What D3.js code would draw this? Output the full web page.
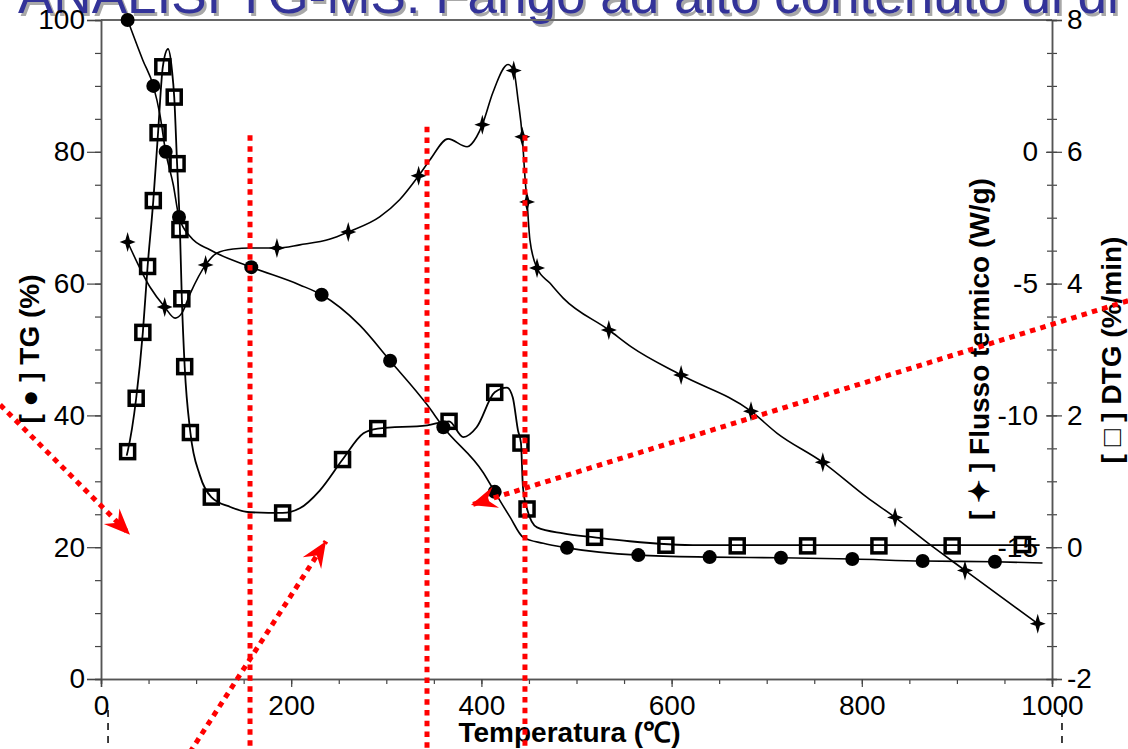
<!DOCTYPE html>
<html lang="it">
<head>
    <meta charset="UTF-8">
    <title>TG-MS</title>
    <style>
        body { margin: 0; background-color: #fff; }
        svg { display: block; }
        text { font-family: "Liberation Sans", Arial, sans-serif; }
    </style>
</head>
<body>
<script src="https://cdnjs.cloudflare.com/ajax/libs/d3/7.8.5/d3.min.js"></script>
<script>

    let width = 1128
    let height = 749
    let plotLeft = 101, plotRight = 1052, plotTop = 20, plotBottom = 679

    // TG (%) - curve and filled circles
    let tgCurve = [[28,100],[44,93.9],[55,90],[62,85.6],[68,80],[76,75],[82,70.1],[94,67.1],[115,65.1],[158,62.5],
        [209,59.8],[232,58.3],[272,53.7],[304,48.3],[343,41.6],[360,38.2],[402,31.3],[414,28.4],[430,24.6],[444,21.5],
        [465,20.6],[490,19.9],[565,18.8],[640,18.5],[715,18.4],[790,18.2],[864,17.9],[940,17.8],[990,17.6]]
    let tgMarkers = [[28,100],[55,90],[68,80],[82,70.1],[158,62.5],[232,58.3],[304,48.3],[360,38.2],[414,28.4],
        [490,19.9],[565,18.8],[640,18.5],[715,18.4],[790,18.2],[864,17.9],[940,17.8]]

    // DTG (%/min) - curve and open squares
    let dtgCurve = [[27,1.39],[28,1.45],[37,2.26],[44,3.26],[49,4.26],[55,5.26],[60,6.29],[65,7.29],[70.5,7.56],[74.7,7.23],
        [77,6.83],[80,5.82],[83,4.82],[85,3.77],[88,2.74],[94,1.74],[104,1.09],[116,0.76],[136,0.61],[157,0.53],
        [191,0.52],[209,0.59],[230,0.86],[254,1.33],[276,1.73],[291,1.80],[343,1.85],[366,1.91],[381,1.67],[395,1.82],
        [414,2.35],[427,2.42],[433,2.27],[438.5,1.77],[441.6,1.58],[443.7,0.91],[448,0.58],[458.5,0.30],[486,0.21],
        [519,0.15],[556,0.09],[630,0.03],[987,0.03]]
    let dtgMarkers = [[28,1.45],[37,2.26],[44,3.26],[49,4.26],[55,5.26],[60,6.29],[65,7.29],[77,6.83],[80,5.82],
        [83,4.82],[85,3.77],[88,2.74],[94,1.74],[116,0.76],[191,0.52],[254,1.33],[291,1.80],[366,1.91],[414,2.35],
        [441.6,1.58],[448,0.58],[519,0.15],[594,0.03],[669,0.02],[743,0.02],[818,0.02],[895,0.02],[969,0.04]]

    // Flusso termico (W/g) - curve and 4-point stars
    let hfCurve = [[28,-3.42],[51.5,-5.13],[67,-5.89],[78,-6.31],[85,-6.12],[94,-5.36],[110,-4.29],[122,-3.84],[139,-3.69],
        [157,-3.65],[185,-3.65],[209,-3.53],[241,-3.31],[260,-3.04],[293,-2.47],[314,-1.82],[334,-0.91],[346,-0.30],
        [365,0.49],[385,0.19],[395,0.57],[401,1.03],[412,2.24],[428,3.31],[434,3.08],[438.5,1.98],[443,0.57],[446,-1.06],
        [448,-1.90],[451,-3.34],[458.5,-4.41],[472,-4.98],[486,-5.55],[534,-6.76],[558,-7.41],[610,-8.47],[683.5,-9.84],
        [711,-10.68],[759,-11.78],[805.5,-13.11],[835,-13.87],[868.6,-14.82],[908.5,-15.88],[985,-17.9]]
    let hfMarkers = [[28,-3.42],[67,-5.89],[110,-4.29],[185,-3.65],[260,-3.04],[334,-0.91],[401,1.03],[434,3.08],
        [443,0.57],[448,-1.90],[458.5,-4.41],[534,-6.76],[610,-8.47],[683.5,-9.84],[759,-11.78],[835,-13.87],
        [908.5,-15.88],[985,-17.9]]

    let xTicks = [0, 200, 400, 600, 800, 1000]
    let tgTicks = [0, 20, 40, 60, 80, 100]
    let dtgTicks = [-2, 0, 2, 4, 6, 8]
    let hfTicks = [0, -5, -10, -15]

    // red annotation lines (temperature, TG top) and arrows ([T, TG] from -> to)
    let redLines = [[156.7, 82.5], [342.8, 83.8], [445.8, 82.5]]
    let redArrows = [[[-106, 41.6], [30.5, 21.9]], [[93.6, -11.1], [236.6, 20.9]], [[1080, 57.4], [389, 26.4]]]
    let dashMarks = [7.4, 1010.5]

    let titleText = "ANALISI TG-MS: Fango ad alto contenuto di di"

    let x = d3.scaleLinear().domain([0, 1000]).range([plotLeft, plotRight])
    let yTG = d3.scaleLinear().domain([0, 100]).range([plotBottom, plotTop])
    let yDTG = d3.scaleLinear().domain([-2, 8]).range([plotBottom, plotTop])
    let yHF = d3.scaleLinear().domain([-20, 5]).range([plotBottom, plotTop])

    let plain = d => String(d)

    let svg = d3.select("body").append("svg")
        .attr("width", width)
        .attr("height", height)

    // title (cut at the top, with shadow)
    svg.append("text")
        .attr("x", 20.5).attr("y", 15.5)
        .attr("font-size", 53).attr("fill", "#a8a8a8")
        .text(titleText)
    svg.append("text")
        .attr("x", 18).attr("y", 13)
        .attr("font-size", 53).attr("fill", "#333399")
        .text(titleText)

    // top frame line
    svg.append("line")
        .attr("x1", plotLeft).attr("x2", plotRight).attr("y1", plotTop).attr("y2", plotTop)
        .attr("stroke", "#666").attr("stroke-width", 2)

    function styleAxis(g) {
        g.select(".domain").attr("stroke", "#555").attr("stroke-width", 1.5)
        g.selectAll(".tick line").attr("stroke", "#444").attr("stroke-width", 1.2)
        g.selectAll(".tick text").attr("font-size", 28).attr("fill", "#000")
            .attr("font-family", "'Liberation Sans', Arial, sans-serif")
    }

    // left TG axis
    svg.append("g").attr("transform", `translate(${plotLeft},0)`)
        .call(d3.axisLeft(yTG).tickValues(d3.range(0, 101, 5)).tickSize(6).tickFormat(""))
        .call(styleAxis)
    svg.append("g").attr("transform", `translate(${plotLeft},0)`)
        .call(d3.axisLeft(yTG).tickValues(tgTicks).tickSize(14).tickPadding(2).tickFormat(plain))
        .call(styleAxis)

    // bottom axis
    svg.append("g").attr("transform", `translate(0,${plotBottom})`)
        .call(d3.axisBottom(x).tickValues(d3.range(0, 1001, 50)).tickSize(5).tickFormat(""))
        .call(styleAxis)
    svg.append("g").attr("transform", `translate(0,${plotBottom})`)
        .call(d3.axisBottom(x).tickValues(xTicks).tickSize(8).tickPadding(8).tickFormat(plain))
        .call(styleAxis)

    // right DTG axis (ticks cross the line)
    svg.append("g").attr("transform", `translate(${plotRight},0)`)
        .call(d3.axisRight(yDTG).tickValues(d3.range(-2, 8.01, 0.5)).tickSize(5).tickFormat(""))
        .call(styleAxis)
        .call(g => g.selectAll(".tick line").attr("x1", -5))
    svg.append("g").attr("transform", `translate(${plotRight},0)`)
        .call(d3.axisRight(yDTG).tickValues(dtgTicks).tickSize(10).tickPadding(5).tickFormat(plain))
        .call(styleAxis)
        .call(g => g.selectAll(".tick line").attr("x1", -6))

    // heat flow labels inside the right axis
    svg.append("g").attr("transform", `translate(${plotRight},0)`)
        .call(d3.axisLeft(yHF).tickValues(hfTicks).tickSize(6).tickPadding(8).tickFormat(plain))
        .call(styleAxis)
        .call(g => g.select(".domain").remove())
        .call(g => g.selectAll(".tick line").remove())

    // axis titles
    svg.append("text")
        .attr("x", plotLeft + (plotRight - plotLeft) / 2 - 7).attr("y", 742)
        .attr("text-anchor", "middle").attr("font-size", 28).attr("font-weight", "bold")
        .text("Temperatura (\u2103)")
    svg.append("text")
        .attr("transform", "translate(39,349) rotate(-90)")
        .attr("text-anchor", "middle").attr("font-size", 28).attr("font-weight", "bold")
        .text("[ \u25CF ] TG (%)")
    svg.append("text")
        .attr("transform", "translate(989,349) rotate(-90)")
        .attr("text-anchor", "middle").attr("font-size", 28).attr("font-weight", "bold")
        .text("[ \u2726 ] Flusso termico (W/g)")
    svg.append("text")
        .attr("transform", "translate(1121,350) rotate(-90)")
        .attr("text-anchor", "middle").attr("font-size", 28).attr("font-weight", "bold")
        .text("[ \u25A1 ] DTG (%/min)")

    // curves
    let line = (yScale) => d3.line()
        .x(d => x(d[0]))
        .y(d => yScale(d[1]))
        .curve(d3.curveMonotoneX)

    svg.append("path").datum(tgCurve)
        .attr("d", line(yTG)).attr("fill", "none").attr("stroke", "#000").attr("stroke-width", 1.6)
    svg.append("path").datum(dtgCurve)
        .attr("d", line(yDTG)).attr("fill", "none").attr("stroke", "#000").attr("stroke-width", 1.8)
    svg.append("path").datum(hfCurve)
        .attr("d", line(yHF)).attr("fill", "none").attr("stroke", "#000").attr("stroke-width", 1.6)

    // markers
    svg.append("g").selectAll("circle")
        .data(tgMarkers).enter().append("circle")
        .attr("cx", d => x(d[0])).attr("cy", d => yTG(d[1]))
        .attr("r", 7).attr("fill", "#000")

    svg.append("g").selectAll("rect")
        .data(dtgMarkers).enter().append("rect")
        .attr("x", d => x(d[0]) - 7).attr("y", d => yDTG(d[1]) - 7)
        .attr("width", 14).attr("height", 14)
        .attr("fill", "none").attr("stroke", "#000").attr("stroke-width", 3.5)

    let star = "M0,-10 L2.2,-2.2 L8,0 L2.2,2.2 L0,10 L-2.2,2.2 L-8,0 L-2.2,-2.2 Z"
    svg.append("g").selectAll("path")
        .data(hfMarkers).enter().append("path")
        .attr("d", star)
        .attr("transform", d => `translate(${x(d[0])},${yHF(d[1])})`)
        .attr("fill", "#000")

    // red dotted annotations
    svg.append("defs").append("marker")
        .attr("id", "head")
        .attr("viewBox", "-26 -13 28 26")
        .attr("refX", 0).attr("refY", 0)
        .attr("markerWidth", 28).attr("markerHeight", 26)
        .attr("markerUnits", "userSpaceOnUse")
        .attr("orient", "auto")
        .append("path")
        .attr("d", "M0,0 L-26,-11 L-17,0 L-26,11 Z")
        .attr("fill", "#ff0000")

    svg.append("g").selectAll("line")
        .data(redLines).enter().append("line")
        .attr("x1", d => x(d[0])).attr("x2", d => x(d[0]))
        .attr("y1", d => yTG(d[1])).attr("y2", height)
        .attr("stroke", "#ff0000").attr("stroke-width", 5)
        .attr("stroke-dasharray", "5.5,5.3")

    svg.append("g").selectAll("line")
        .data(redArrows).enter().append("line")
        .attr("x1", d => x(d[0][0])).attr("y1", d => yTG(d[0][1]))
        .attr("x2", d => x(d[1][0])).attr("y2", d => yTG(d[1][1]))
        .attr("stroke", "#ff0000").attr("stroke-width", 5)
        .attr("stroke-dasharray", "5.5,5.3")
        .attr("marker-end", "url(#head)")

    // black dashed marks below the axis
    svg.append("g").selectAll("line")
        .data(dashMarks).enter().append("line")
        .attr("x1", d => x(d)).attr("x2", d => x(d))
        .attr("y1", 710).attr("y2", height)
        .attr("stroke", "#000").attr("stroke-width", 1.5)
        .attr("stroke-dasharray", "7,6")

</script>
</body>
</html>
